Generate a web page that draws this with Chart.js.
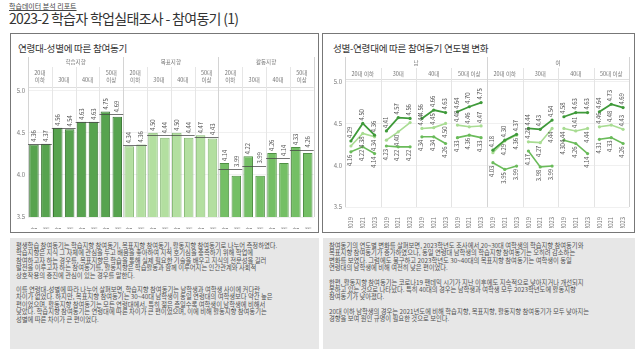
<!DOCTYPE html>
<html><head><meta charset="utf-8">
<script src="https://cdn.jsdelivr.net/npm/chart.js@4"></script>
<style>
body{margin:0;background:#fff;font-family:"Noto Sans CJK KR","Noto Sans",sans-serif;width:639px;height:358px;overflow:hidden;position:relative}
.sub{position:absolute;left:9px;top:1px;font-size:7px;color:#444;text-decoration:underline;white-space:nowrap}
.title{position:absolute;left:9px;top:8px;font-size:14px;color:#333;letter-spacing:-0.7px;white-space:nowrap}
.panel{position:absolute;top:33px;height:200px;border:1px solid #777;box-sizing:border-box}
.ptitle{position:absolute;left:7px;top:7px;font-size:9.6px;color:#333;white-space:nowrap;letter-spacing:-0.3px}
.text{position:absolute;top:238px;height:111px;background:#e7e7e7;font-size:6.3px;color:#505050;line-height:7.4px;padding:4px 6px;box-sizing:border-box;white-space:nowrap}
.text p{margin:0 0 7px 0}
canvas{position:absolute}
</style></head>
<body>
<div class="sub">학습데이터 분석 리포트</div>
<div class="title">2023-2 학습자 학업실태조사 - 참여동기 (1)</div>
<div class="panel" style="left:10px;width:309px"><div class="ptitle">연령대-성별에 따른 참여동기</div></div>
<div class="panel" style="left:322px;width:313px"><div class="ptitle" style="left:10px">성별-연령대에 따른 참여동기 연도별 변화</div></div>
<canvas id="left" width="306" height="197" style="left:11px;top:34px"></canvas>
<canvas id="right" width="309" height="197" style="left:324px;top:34px"></canvas>
<div class="text" style="left:10px;width:309px">
<p>평생학습 참여동기는 학습지향 참여동기, 목표지향 참여동기, 활동지향 참여동기로 나누어 측정하였다.<br>학습지향은 지식 그 자체에 관심을 두고 배움을 좋아하여 지적 호기심을 충족하기 위해 학업에<br>참여하고자 하는 경우를, 목표지향은 학습을 통해 실제 필요한 기술을 배우고 지식의 전문성을 길러<br>발전을 이루고자 하는 참여동기를, 활동지향은 학습활동과 함께 이루어지는 인간관계와 사회적<br>상호작용의 증진에 관심이 있는 경우를 말한다.</p>
<p>이를 연령대-성별에 따라 나누어 살펴보면, 학습지향 참여동기는 남학생과 여학생 사이에 커다란<br>차이가 없었다. 하지만, 목표지향 참여동기는 30~40대 남학생이 동일 연령대의 여학생보다 약간 높은<br>편이었으며, 활동지향 참여동기는 모든 연령대에서, 특히 젊은 층일수록 여학생이 남학생에 비해서<br>낮았다. 학습지향 참여동기는 연령대에 따른 차이가 큰 편이었으며, 이에 비해 활동지향 참여동기는<br>성별에 따른 차이가 큰 편이었다.</p>
</div>
<div class="text" style="left:323px;width:312px">
<p>참여동기의 연도별 변화를 살펴보면, 2023학년도 조사에서 20~30대 여학생의 학습지향 참여동기와<br>목표지향 참여동기가 증가하였으나, 동일 연령대 남학생의 학습지향 참여동기는 오히려 감소하는<br>변화를 보였다. 그럼에도 불구하고 2023학년도 30~40대의 목표지향 참여동기는 여학생이 동일<br>연령대의 남학생에 비해 여전히 낮은 편이었다.</p>
<p>한편, 활동지향 참여동기는 코로나19 팬데믹 시기가 지난 이후에도 지속적으로 낮아지거나 개선되지<br>못하고 있는 것으로 나타났다. 특히 40대의 경우는 남학생과 여학생 모두 2023학년도에 활동지향<br>참여동기가 낮아졌다.</p>
<p>20대 이하 남학생의 경우는 2021년도에 비해 학습지향, 목표지향, 활동지향 참여동기가 모두 낮아지는<br>경향을 보여 원인 규명이 필요한 것으로 보인다.</p>
</div>
<script>
// ---------- data: left bar chart ----------
const barGroups = ['학습지향', '목표지향', '활동지향'];
const barAges = ['20대\n이하', '30대', '40대', '50대\n이상'];
const barGenders = ['남', '여'];
const learnBars = [4.36, 4.37, 4.56, 4.54, 4.63, 4.63, 4.75, 4.69];
const goalBars  = [4.34, 4.36, 4.50, 4.44, 4.50, 4.44, 4.47, 4.43];
const actBars   = [4.14, 3.99, 4.22, 3.99, 4.26, 4.14, 4.33, 4.26];
const pairRefs  = [4.37, 4.55, 4.63, 4.72, 4.35, 4.47, 4.47, 4.45, 4.07, 4.11, 4.20, 4.30];
const yTicks = [3.5, 4.0, 4.5, 5.0];

// ---------- data: right line chart ----------
const years = ['2019', '2021', '2023'];
const lineGenders = ['남', '여'];
const lineAges = ['20대 이하', '30대', '40대', '50대 이상'];
const learnLine = [4.29,4.50,4.36, 4.41,4.57,4.56, 4.56,4.66,4.63, 4.64,4.70,4.75, 4.18,4.30,4.37, 4.44,4.43,4.54, 4.58,4.63,4.63, 4.64,4.73,4.69];
const goalLine  = [4.23,4.38,4.34, 4.30,4.40,4.51, 4.44,4.45,4.50, 4.48,4.46,4.47, 4.15,4.29,4.36, 4.28,4.27,4.44, 4.44,4.41,4.44, 4.46,4.48,4.43];
const actLine   = [4.16,4.22,4.14, 4.23,4.22,4.22, 4.34,4.34,4.26, 4.33,4.36,4.33, 4.03,3.95,3.99, 4.17,3.98,3.99, 4.30,4.26,4.14, 4.31,4.33,4.26];
const goalHiddenLabels = [0, 3, 5, 12];

// ---------- styles ----------
const C_DARK = '#57a34f', C_LIGHT = '#b3dfa0', C_MED = '#74bf65';
const B_DARK = '#3a7634', B_LIGHT = '#84b872', B_MED = '#4f8f44';
const L_DARK = '#3f9a3a', L_LIGHT = '#a8dc92', L_MED = '#6abb5a';
const FONT = '"Noto Sans CJK KR","Noto Sans",sans-serif';
Chart.defaults.font.family = FONT;

// ---------- left chart ----------
const barLabels = [], barData = [], barBg = [], barBorder = [];
const allBars = [learnBars, goalBars, actBars];
const fills = [C_DARK, C_LIGHT, C_MED], borders = [B_DARK, B_LIGHT, B_MED];
barGroups.forEach((g, gi) => {
  barAges.forEach((a, ai) => {
    barGenders.forEach((s, si) => {
      barLabels.push(s);
      barData.push(allBars[gi][ai * 2 + si]);
      barBg.push(fills[gi]);
      barBorder.push(borders[gi]);
    });
  });
});

function vline(ctx, x, y0, y1) { ctx.beginPath(); ctx.moveTo(Math.round(x) + 0.5, y0); ctx.lineTo(Math.round(x) + 0.5, y1); ctx.stroke(); }
function hline(ctx, x0, x1, y) { ctx.beginPath(); ctx.moveTo(x0, Math.round(y) + 0.5); ctx.lineTo(x1, Math.round(y) + 0.5); ctx.stroke(); }

const leftDecor = {
  id: 'leftDecor',
  beforeDatasetsDraw(chart) {
    const { ctx, chartArea: a, scales: { x } } = chart;
    const n = barLabels.length;
    const step = x.getPixelForValue(1) - x.getPixelForValue(0);
    const bound = i => i >= n ? a.right : (i === 0 ? a.left : x.getPixelForValue(i) - step / 2);
    ctx.save();
    ctx.lineWidth = 1;
    ctx.strokeStyle = '#dedede';
    hline(ctx, a.left, a.right, a.top - 1);
    for (let i = 0; i <= n; i += 2) {
      const isGroup = i % 8 === 0;
      ctx.strokeStyle = isGroup ? '#d4d4d4' : '#e6e6e6';
      vline(ctx, bound(i), isGroup ? a.top - 31 : a.top - 21, a.bottom);
    }
    ctx.fillStyle = '#777';
    ctx.textAlign = 'center';
    ctx.textBaseline = 'middle';
    ctx.font = '5.5px ' + FONT;
    barGroups.forEach((g, gi) => {
      ctx.fillText(g, (bound(gi * 8) + bound(gi * 8 + 8)) / 2, a.top - 26);
      barAges.forEach((ag, ai) => {
        const cx = (bound(gi * 8 + ai * 2) + bound(gi * 8 + ai * 2 + 2)) / 2;
        const lines = ag.split('\n');
        lines.forEach((t, li) => {
          const yy = a.top - 8 - (lines.length - 1 - li) * 7;
          ctx.fillText(t, cx, yy);
        });
      });
    });
    ctx.restore();
  },
  afterDatasetsDraw(chart) {
    const { ctx, scales: { x, y } } = chart;
    const step = x.getPixelForValue(1) - x.getPixelForValue(0);
    ctx.save();
    ctx.strokeStyle = 'rgba(70,70,70,0.75)';
    ctx.lineWidth = 1;
    pairRefs.forEach((v, i) => {
      const x0 = x.getPixelForValue(i * 2) - step / 2, x1 = x.getPixelForValue(i * 2 + 1) + step / 2;
      hline(ctx, x0, x1, y.getPixelForValue(v));
    });
    ctx.fillStyle = '#555';
    ctx.font = '5.8px ' + FONT;
    ctx.textBaseline = 'middle';
    ctx.textAlign = 'left';
    barData.forEach((v, i) => {
      const px = x.getPixelForValue(i), py = Math.min(y.getPixelForValue(v), y.getPixelForValue(pairRefs[Math.floor(i / 2)]));
      ctx.save();
      ctx.translate(px, py - 2);
      ctx.rotate(-Math.PI / 2);
      ctx.fillText(v.toFixed(2), 0, 0);
      ctx.restore();
    });
    ctx.restore();
  }
};

new Chart(document.getElementById('left'), {
  type: 'bar',
  data: { labels: barLabels, datasets: [{ data: barData, backgroundColor: barBg, borderColor: barBorder, borderWidth: 1, barPercentage: 0.8, categoryPercentage: 1 }] },
  options: {
    responsive: false, animation: false, devicePixelRatio: 1,
    layout: { padding: { top: 54, right: 3, bottom: 2, left: 0 } },
    plugins: { legend: { display: false }, tooltip: { enabled: false } },
    scales: {
      x: {
        grid: { display: false }, border: { display: false },
        ticks: { autoSkip: false, minRotation: 90, maxRotation: 90, color: '#777', font: { size: 6 }, padding: 2 },
        afterFit: s => { s.height = 12; }
      },
      y: {
        min: 3.5, max: 5.03, afterBuildTicks: s => { s.ticks = yTicks.map(v => ({ value: v })); },
        ticks: { color: '#777', font: { size: 6 }, padding: 3, callback: v => Number(v).toFixed(1) },
        grid: { color: '#f0f0f0', drawTicks: false }, border: { display: false },
        afterFit: s => { s.width = 17; }
      }
    }
  },
  plugins: [leftDecor]
});

// ---------- right chart ----------
const lineLabels = [];
lineGenders.forEach(g => lineAges.forEach(a => years.forEach(yr => lineLabels.push(yr))));

const rightDecor = {
  id: 'rightDecor',
  beforeDatasetsDraw(chart) {
    const { ctx, chartArea: a, scales: { x } } = chart;
    const n = lineLabels.length;
    const step = x.getPixelForValue(1) - x.getPixelForValue(0);
    const bound = i => i >= n ? a.right : (i === 0 ? a.left : x.getPixelForValue(i) - step / 2);
    ctx.save();
    ctx.lineWidth = 1;
    ctx.strokeStyle = '#dedede';
    hline(ctx, a.left, a.right, a.top - 1);
    for (let i = 0; i <= n; i += 3) {
      const isGroup = i % 12 === 0;
      ctx.strokeStyle = isGroup ? '#d4d4d4' : '#e4e4e4';
      vline(ctx, bound(i), isGroup ? a.top - 23 : a.top - 12, a.bottom);
    }
    ctx.fillStyle = '#777';
    ctx.textAlign = 'center';
    ctx.textBaseline = 'middle';
    ctx.font = '5.5px ' + FONT;
    lineGenders.forEach((g, gi) => {
      ctx.fillText(g, (bound(gi * 12) + bound(gi * 12 + 12)) / 2, a.top - 17);
      lineAges.forEach((ag, ai) => {
        ctx.fillText(ag, (bound(gi * 12 + ai * 3) + bound(gi * 12 + ai * 3 + 3)) / 2, a.top - 6);
      });
    });
    ctx.restore();
  },
  afterDatasetsDraw(chart) {
    const { ctx, scales: { x, y } } = chart;
    ctx.save();
    ctx.fillStyle = '#555';
    ctx.font = '5.8px ' + FONT;
    ctx.textBaseline = 'middle';
    const put = (v, i, above) => {
      const px = x.getPixelForValue(i) - 1, py = y.getPixelForValue(v);
      ctx.save();
      ctx.translate(px, above ? py - 3 : py + 3);
      ctx.rotate(-Math.PI / 2);
      ctx.textAlign = above ? 'left' : 'right';
      ctx.fillText(v.toFixed(2), 0, 0);
      ctx.restore();
    };
    learnLine.forEach((v, i) => put(v, i, true));
    actLine.forEach((v, i) => put(v, i, false));
    goalLine.forEach((v, i) => {
      if (goalHiddenLabels.includes(i)) return;
      put(v, i, (v - actLine[i]) < (learnLine[i] - v));
    });
    ctx.restore();
  }
};

const mk = (data, color, w, order) => ({
  data, borderColor: color, backgroundColor: color, borderWidth: w,
  pointRadius: 1.6, pointBackgroundColor: color, pointBorderWidth: 0, tension: 0, order,
  segment: { borderColor: c => (c.p0DataIndex % 3 === 2 ? 'rgba(0,0,0,0)' : color) }
});

new Chart(document.getElementById('right'), {
  type: 'line',
  data: { labels: lineLabels, datasets: [mk(actLine, L_MED, 1.6, 3), mk(goalLine, L_LIGHT, 1.6, 2), mk(learnLine, L_DARK, 1.8, 1)] },
  options: {
    responsive: false, animation: false, devicePixelRatio: 1,
    layout: { padding: { top: 46, right: 3, bottom: 3, left: 0 } },
    plugins: { legend: { display: false }, tooltip: { enabled: false } },
    scales: {
      x: {
        offset: true,
        grid: { display: false }, border: { display: false },
        ticks: { autoSkip: false, minRotation: 90, maxRotation: 90, color: '#777', font: { size: 5.8 }, padding: 2 },
        afterFit: s => { s.height = 21; }
      },
      y: {
        min: 3.5, max: 5.02, afterBuildTicks: s => { s.ticks = yTicks.map(v => ({ value: v })); },
        ticks: { color: '#777', font: { size: 6 }, padding: 3, callback: v => Number(v).toFixed(1) },
        grid: { color: '#f0f0f0', drawTicks: false }, border: { display: false },
        afterFit: s => { s.width = 21; }
      }
    }
  },
  plugins: [rightDecor]
});
</script>
</body></html>
